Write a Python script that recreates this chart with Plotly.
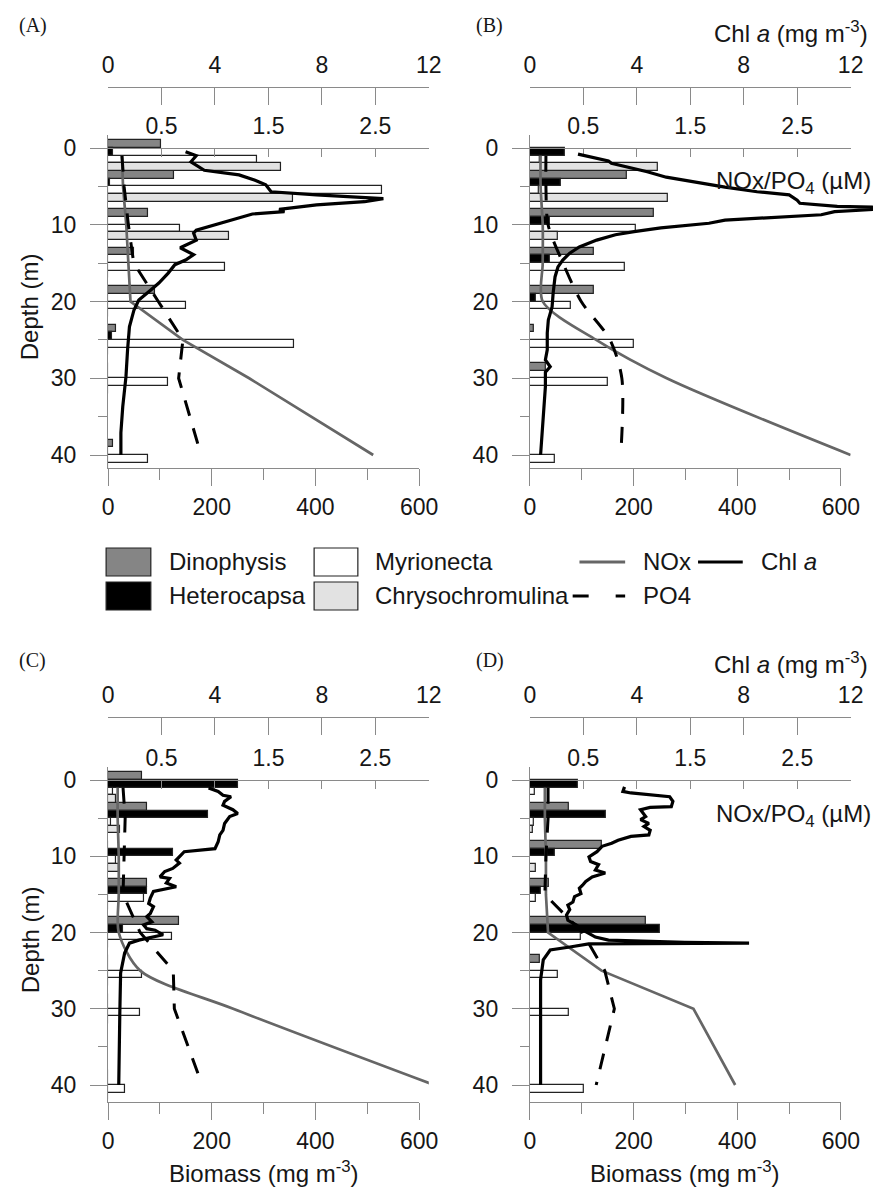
import plotly.graph_objects as go

W, H = 892, 1187

# ---------------------------------------------------------------- data
sample_depth = [1, 5, 10, 15, 20, 25, 30, 40]
species_names = ["Dinophysis", "Heterocapsa", "Myrionecta", "Chrysochromulina"]
species_colors = ["#858585", "#000000", "#ffffff", "#e2e2e2"]

# Biomass (mg m-3) at each sampling depth
dino_A = [102, 127, 78, 50, 91, 16, 0, 9]
hetero_A = [9, 4, 0, 0, 0, 7, 0, 0]
myrio_A = [287, 528, 139, 225, 150, 358, 116, 77]
chryso_A = [334, 356, 233, 0, 0, 0, 0, 0]

dino_B = [0, 187, 240, 124, 124, 8, 30, 0]
hetero_B = [67, 60, 39, 38, 11, 0, 0, 0]
myrio_B = [20, 17, 204, 184, 80, 200, 150, 49]
chryso_B = [246, 266, 54, 0, 0, 0, 0, 0]

dino_C = [65, 75, 0, 75, 137, 0, 0, 0]
hetero_C = [250, 193, 125, 75, 28, 0, 0, 0]
myrio_C = [10, 5, 15, 70, 124, 65, 61, 33]
chryso_C = [15, 24, 22, 0, 0, 0, 0, 0]

dino_D = [0, 75, 138, 37, 224, 19, 0, 0]
hetero_D = [92, 146, 49, 22, 251, 0, 0, 0]
myrio_D = [10, 8, 0, 11, 98, 54, 75, 105]
chryso_D = [0, 6, 11, 0, 0, 0, 0, 0]

# Nutrients (uM) at the sampling depths
nox_A = [0.13, 0.14, 0.17, 0.19, 0.21, 0.70, 1.32, 2.48]
po4_A = [0.13, 0.15, 0.19, 0.24, 0.47, 0.70, 0.66, 0.87]
nox_B = [0.10, 0.10, 0.12, 0.12, 0.12, 0.62, 1.28, 3.00]
po4_B = [0.15, 0.15, 0.17, 0.31, 0.48, 0.75, 0.86, 0.85]
nox_C = [0.09, 0.09, 0.10, 0.10, 0.10, 0.30, 1.17, 3.05]
po4_C = [0.14, 0.16, 0.15, 0.14, 0.30, 0.61, 0.62, 0.88]
nox_D = [0.14, 0.14, 0.15, 0.15, 0.17, 0.67, 1.53, 1.92]
po4_D = [0.17, 0.17, 0.15, 0.14, 0.49, 0.70, 0.79, 0.62]

# Chl a fluorescence profiles (mg m-3)
chl_depth_A = [0.5, 1.0, 1.8, 2.9, 3.5, 4.2, 4.8, 5.7, 6.1, 6.6, 7.0, 7.4, 8.0,
               8.3, 8.6, 9.6, 10.3, 10.7, 11.1, 12.0, 13.0, 13.9, 14.6, 15.2,
               16.3, 17.6, 18.5, 19.8, 21.1, 23.3, 26.3, 29.8, 33.7, 37.1, 40.0]
chl_A = [2.9, 3.3, 3.1, 3.6, 4.9, 5.5, 5.9, 6.1, 7.8, 10.3, 9.6, 7.8, 6.4,
         6.6, 5.4, 4.4, 3.6, 3.3, 3.2, 3.3, 2.7, 3.2, 2.9, 2.5,
         2.25, 1.9, 1.6, 1.15, 0.97, 0.8, 0.73, 0.67, 0.55, 0.48, 0.48]

chl_depth_B = [0.8, 1.2, 1.7, 2.0, 2.5, 3.1, 3.8, 4.4, 5.1, 5.7, 6.1, 6.8, 7.2,
               7.6, 7.7, 8.0, 8.3, 8.7, 9.4, 9.8, 10.4, 10.9, 11.3, 12.0, 12.9,
               13.7, 14.6, 15.5, 16.8, 18.9, 20.7, 22.4, 24.1, 26.3, 27.6, 28.5,
               29.2, 31.1, 34.5, 37.1, 40.0]
chl_B = [1.8, 2.3, 2.94, 3.05, 3.66, 4.39, 5.1, 6.1, 7.3, 8.5, 9.7, 10.0, 10.1,
         11.5, 12.8, 12.9, 11.4, 10.9, 7.3, 6.7, 4.9, 3.9, 3.2, 2.5, 1.85,
         1.49, 1.23, 1.05, 0.94, 0.87, 0.83, 0.69, 0.65, 0.65, 0.58, 0.76,
         0.58, 0.58, 0.51, 0.47, 0.40]

chl_depth_C = [1.05, 1.5, 2.0, 2.2, 2.8, 3.3, 3.9, 4.4, 4.8, 5.7, 6.6, 7.2, 8.1,
               9.0, 9.4, 10.1, 10.5, 10.9, 11.6, 12.0, 12.7, 12.9, 13.5, 14.0,
               14.4, 14.6, 15.5, 16.2, 16.6, 17.5, 17.9, 18.6, 19.0, 19.5, 19.7,
               20.3, 21.0, 21.4, 22.7, 25.3, 30.6, 40.0]
chl_C = [3.76, 4.12, 4.3, 4.6, 4.36, 4.3, 4.67, 4.85, 4.55, 4.36, 4.3, 4.18, 4.12,
         4.0, 2.85, 2.67, 2.55, 2.67, 2.42, 2.12, 1.94, 2.3, 2.18, 2.55,
         2.0, 1.7, 1.58, 1.52, 1.7, 1.58, 1.45, 1.64, 1.33, 1.45, 1.76,
         2.06, 1.15, 0.8, 0.62, 0.47, 0.44, 0.40]

chl_depth_D = [0.9, 1.5, 1.7, 2.0, 2.2, 2.8, 3.5, 3.6, 3.9, 4.8, 5.2, 5.7, 6.1,
               6.6, 7.2, 7.4, 7.9, 8.3, 8.7, 9.4, 10.1, 10.7, 11.1, 11.8, 12.2,
               12.7, 13.3, 13.8, 14.2, 14.9, 15.3, 16.0, 16.4, 17.0, 17.7, 18.4,
               19.0, 19.9, 20.6, 21.0, 21.3, 21.4, 21.5, 21.9, 22.3, 23.6, 26.2,
               40.0]
chl_D = [3.54, 3.48, 3.78, 4.5, 5.23, 5.35, 5.29, 4.5, 4.14, 4.33, 4.14, 4.45, 4.27,
         4.5, 4.45, 3.78, 3.3, 3.06, 2.7, 2.51, 2.21, 2.27, 2.57, 2.45, 2.82,
         2.33, 2.09, 1.97, 1.85, 1.91, 1.67, 1.61, 1.42, 1.49, 1.37, 1.42,
         1.73, 2.09, 2.45, 2.94, 5.8, 8.2, 2.2, 1.5, 0.76, 0.5, 0.4,
         0.4]

# ---------------------------------------------------------------- layout helpers
def fx(px):
    return px / W


def fy(py):
    return 1 - py / H


AX = "#8a8a8a"
TXT = "#161616"
SANS = "Liberation Sans, Arial, sans-serif"
SERIF = "Liberation Serif, Times New Roman, serif"
TICKFONT = dict(family=SANS, size=23, color=TXT)

panels = [
    dict(tag="(A)", left=105, right=435, bio_right=425, clip_right=445,
         top=135, bottom=468, depth0=148, ppm=7.675, chl_y=87, nut_y=148,
         bio=[dino_A, hetero_A, myrio_A, chryso_A], nox=nox_A, po4=po4_A,
         chl_depth=chl_depth_A, chl=chl_A, smooth=False, smooth_nox=False),
    dict(tag="(B)", left=539, right=869, bio_right=859, clip_right=892,
         top=135, bottom=468, depth0=148, ppm=7.675, chl_y=87, nut_y=148,
         bio=[dino_B, hetero_B, myrio_B, chryso_B], nox=nox_B, po4=po4_B,
         chl_depth=chl_depth_B, chl=chl_B, smooth=True, smooth_nox=True),
    dict(tag="(C)", left=105, right=435, bio_right=425, clip_right=445,
         top=767, bottom=1102, depth0=780, ppm=7.625, chl_y=717, nut_y=780,
         bio=[dino_C, hetero_C, myrio_C, chryso_C], nox=nox_C, po4=po4_C,
         chl_depth=chl_depth_C, chl=chl_C, smooth=False, smooth_nox=True),
    dict(tag="(D)", left=539, right=869, bio_right=859, clip_right=892,
         top=767, bottom=1102, depth0=780, ppm=7.625, chl_y=717, nut_y=780,
         bio=[dino_D, hetero_D, myrio_D, chryso_D], nox=nox_D, po4=po4_D,
         chl_depth=chl_depth_D, chl=chl_D, smooth=False, smooth_nox=False),
]


def xname(k):
    return "x" if k == 1 else f"x{k}"


def xlay(k):
    return "xaxis" if k == 1 else f"xaxis{k}"


axis_common = dict(showgrid=False, zeroline=False, showline=True, linecolor=AX,
                   linewidth=1.2, tickcolor=AX, tickwidth=1.2, tickfont=TICKFONT)

fig = go.Figure()
layout_axes = {}

for i, p in enumerate(panels):
    kb, kn, kc, kh = 4 * i + 1, 4 * i + 2, 4 * i + 3, 4 * i + 4
    ya = "y" if i == 0 else f"y{i + 1}"
    ylay = "yaxis" if i == 0 else f"yaxis{i + 1}"

    # grouped horizontal bars of biomass per taxon
    for name, color, vals in zip(species_names, species_colors, p["bio"]):
        fig.add_trace(go.Bar(
            y=sample_depth, x=vals, orientation="h", name=name,
            marker=dict(color=color, line=dict(color="#222222", width=1.2)),
            xaxis=xname(kb), yaxis=ya, showlegend=False, hoverinfo="skip"))

    # nutrient profiles
    nshape = "spline" if p["smooth_nox"] else "linear"
    pshape = "spline" if p["smooth"] else "linear"
    fig.add_trace(go.Scatter(
        x=p["nox"], y=sample_depth, mode="lines", name="NOx",
        line=dict(color="#666666", width=2.7, shape=nshape, smoothing=0.8),
        xaxis=xname(kn), yaxis=ya, showlegend=False))
    fig.add_trace(go.Scatter(
        x=p["po4"], y=sample_depth, mode="lines", name="PO4",
        line=dict(color="#000000", width=3, dash="16px,13px", shape=pshape,
                  smoothing=0.8),
        xaxis=xname(kn), yaxis=ya, showlegend=False))

    # Chl a axis (labelled) and the profile drawn on a wider, unlabelled copy
    fig.add_trace(go.Scatter(x=[], y=[], mode="lines", xaxis=xname(kc), yaxis=ya,
                             showlegend=False))
    fig.add_trace(go.Scatter(
        x=p["chl"], y=p["chl_depth"], mode="lines", name="Chl a",
        line=dict(color="#000000", width=3.2),
        xaxis=xname(kh), yaxis=ya, showlegend=False))

    layout_axes[xlay(kb)] = dict(
        axis_common, domain=[fx(p["left"]), fx(p["bio_right"])], range=[0, 600],
        anchor=ya, side="bottom", tickmode="array", tickvals=[0, 200, 400, 600],
        ticks="outside", ticklen=17, ticklabelstandoff=1,
        minor=dict(tickmode="array", tickvals=[100, 300, 500], ticks="outside",
                   ticklen=11, tickcolor=AX, tickwidth=1.2))
    layout_axes[xlay(kn)] = dict(
        axis_common, domain=[fx(p["left"]), fx(p["right"])], range=[0, 3],
        anchor="free", position=fy(p["nut_y"]), side="top", tickmode="array",
        tickvals=[0.5, 1.5, 2.5], ticks="inside", ticklen=8,
        ticklabelstandoff=5,
        minor=dict(tickmode="array", tickvals=[1, 2, 3], ticks="inside",
                   ticklen=8, tickcolor=AX, tickwidth=1.2))
    layout_axes[xlay(kc)] = dict(
        axis_common, domain=[fx(p["left"]), fx(p["right"])], range=[0, 12],
        anchor="free", position=fy(p["chl_y"]), side="top", tickmode="array",
        tickvals=[0, 4, 8, 12], ticks="inside", ticklen=17,
        ticklabelstandoff=5,
        minor=dict(tickmode="array", tickvals=[2, 6, 10], ticks="inside",
                   ticklen=17, tickcolor=AX, tickwidth=1.2))
    span = (p["clip_right"] - p["left"]) / (p["right"] - p["left"])
    layout_axes[xlay(kh)] = dict(
        domain=[fx(p["left"]), fx(p["clip_right"])], range=[0, 12 * span],
        anchor=ya, visible=False)
    layout_axes[ylay] = dict(
        axis_common, domain=[fy(p["bottom"]), fy(p["top"])],
        range=[(p["bottom"] - p["depth0"]) / p["ppm"],
               (p["top"] - p["depth0"]) / p["ppm"]],
        anchor=xname(kb), tickmode="array", tickvals=[0, 10, 20, 30, 40],
        ticks="outside", ticklen=17, ticklabelstandoff=9,
        minor=dict(tickmode="array", tickvals=[5, 15, 25, 35], ticks="outside",
                   ticklen=9, tickcolor=AX, tickwidth=1.2))

# ---------------------------------------------------------------- text
TITLE = dict(family=SANS, size=24, color=TXT)
annotations = []
for p, (lx, ly) in zip(panels, [(11, 25), (481, 25), (11, 660), (481, 660)]):
    annotations.append(dict(x=fx(lx), y=fy(ly), xref="paper", yref="paper",
                            text=p["tag"], showarrow=False, xanchor="left",
                            yanchor="middle",
                            font=dict(family=SERIF, size=20, color=TXT)))
for cy in (307, 940):
    annotations.append(dict(x=fx(25), y=fy(cy), xref="paper", yref="paper",
                            text="Depth (m)", textangle=-90, showarrow=False,
                            xanchor="center", yanchor="middle", font=TITLE))
for cx in (265, 699):
    annotations.append(dict(x=fx(cx), y=fy(1172), xref="paper", yref="paper",
                            text="Biomass (mg m<sup>-3</sup>)", showarrow=False,
                            xanchor="center", yanchor="middle", font=TITLE))
for cy in (32, 663):
    annotations.append(dict(x=fx(889), y=fy(cy), xref="paper", yref="paper",
                            text="Chl <i>a</i> (mg m<sup>-3</sup>)", showarrow=False,
                            xanchor="right", yanchor="middle", font=TITLE))
for cy in (183, 815):
    annotations.append(dict(x=fx(892), y=fy(cy), xref="paper", yref="paper",
                            text="NOx/PO<sub>4</sub> (µM)", showarrow=False,
                            xanchor="right", yanchor="middle", font=TITLE))

# ---------------------------------------------------------------- legend
shapes = []
LEG = dict(family=SANS, size=24, color=TXT)
row_y = [562, 596]
swatches = [
    (103, 149, row_y[0], species_colors[0], species_names[0], 166),
    (103, 149, row_y[1], species_colors[1], species_names[1], 166),
    (317, 362, row_y[0], species_colors[2], species_names[2], 378),
    (317, 362, row_y[1], species_colors[3], species_names[3], 378),
]
for x0, x1, yc, color, label, tx in swatches:
    shapes.append(dict(type="rect", xref="paper", yref="paper",
                       x0=fx(x0), x1=fx(x1), y0=fy(yc - 14), y1=fy(yc + 14),
                       fillcolor=color, line=dict(color="#222222", width=1.2)))
    annotations.append(dict(x=fx(tx), y=fy(yc), xref="paper", yref="paper",
                            text=label, showarrow=False, xanchor="left",
                            yanchor="middle", font=LEG))

line_keys = [
    (590, 637, row_y[0], "#666666", "solid", "NOx", 653),
    (712, 758, row_y[0], "#000000", "solid", "Chl <i>a</i>", 775),
    (583, 637, row_y[1], "#000000", "16px,27px", "PO4", 653),
]
for x0, x1, yc, color, dash, label, tx in line_keys:
    shapes.append(dict(type="line", xref="paper", yref="paper",
                       x0=fx(x0), x1=fx(x1), y0=fy(yc), y1=fy(yc),
                       line=dict(color=color, width=3.2, dash=dash)))
    annotations.append(dict(x=fx(tx), y=fy(yc), xref="paper", yref="paper",
                            text=label, showarrow=False, xanchor="left",
                            yanchor="middle", font=LEG))

fig.update_layout(
    width=W, height=H, margin=dict(l=0, r=0, t=0, b=0),
    paper_bgcolor="white", plot_bgcolor="rgba(0,0,0,0)",
    barmode="group", bargap=0, bargroupgap=0,
    showlegend=False, annotations=annotations, shapes=shapes,
    font=dict(family=SANS, color=TXT),
    **layout_axes)

fig.write_html("out.html")
